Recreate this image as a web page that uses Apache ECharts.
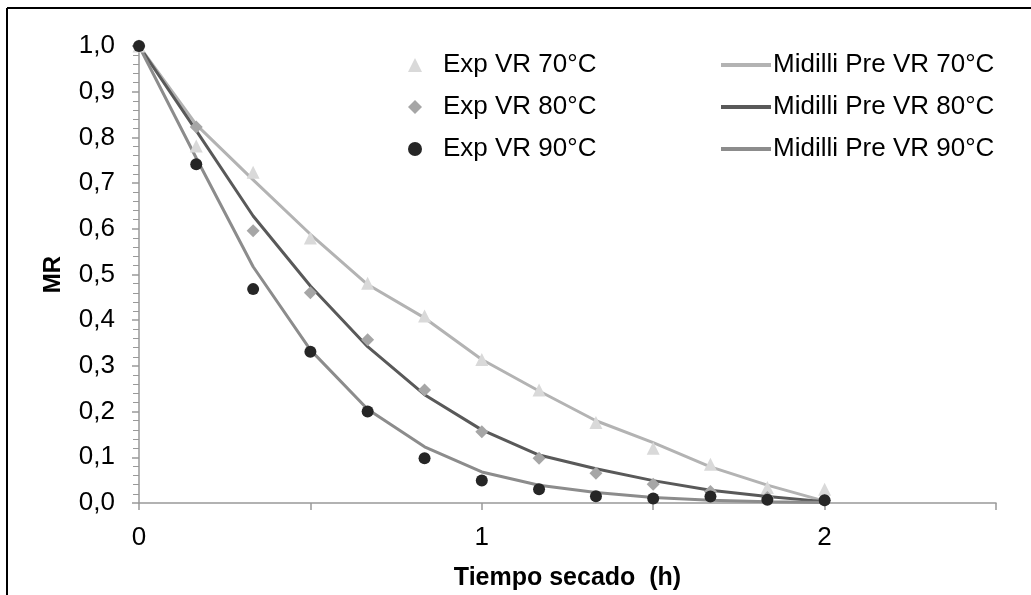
<!DOCTYPE html>
<html>
<head>
<meta charset="utf-8">
<script src="https://cdn.jsdelivr.net/npm/echarts@6/dist/echarts.min.js"></script>
<style>
  html, body { margin: 0; padding: 0; background: #fff; }
  #chart { width: 1031px; height: 595px; }
</style>
</head>
<body>
<div id="chart"></div>
<script>
// Drying time (h), sampled every 10 minutes
const timeH = [0, 0.167, 0.333, 0.5, 0.667, 0.833, 1, 1.167, 1.333, 1.5, 1.667, 1.833, 2];

// Experimental moisture ratio
const exp70 = [1.0, 0.781, 0.724, 0.580, 0.481, 0.409, 0.314, 0.247, 0.176, 0.120, 0.085, 0.034, 0.030];
const exp80 = [1.0, 0.823, 0.596, 0.460, 0.357, 0.247, 0.156, 0.098, 0.065, 0.041, 0.025, 0.012, 0.005];
const exp90 = [1.0, 0.741, 0.468, 0.331, 0.200, 0.098, 0.049, 0.030, 0.015, 0.010, 0.014, 0.007, 0.006];

// Midilli model predictions
const mid70 = [1.0, 0.828, 0.707, 0.588, 0.478, 0.405, 0.314, 0.245, 0.180, 0.132, 0.079, 0.039, 0.004];
const mid80 = [1.0, 0.815, 0.628, 0.475, 0.342, 0.237, 0.160, 0.105, 0.075, 0.049, 0.028, 0.014, 0.003];
const mid90 = [1.0, 0.755, 0.517, 0.335, 0.205, 0.123, 0.068, 0.039, 0.023, 0.012, 0.006, 0.003, 0.001];

// Axis labelling
const xLabelValues = [0, 1, 2];
const yDecimalSep = ',';

const pairs = (ys) => timeH.map((t, i) => [t, ys[i]]);
const FONT = '"Liberation Sans", Arial, sans-serif';

const chart = echarts.init(document.getElementById('chart'), null, { renderer: 'canvas' });

const lineSeries = (name, data, color) => ({
  name, type: 'line', data: pairs(data), symbol: 'none', showSymbol: false, smooth: false,
  lineStyle: { color, width: 3 }, itemStyle: { color }, z: 2
});
const scatterSeries = (name, data, symbol, size, color) => ({
  name, type: 'scatter', data: pairs(data), symbol, symbolSize: size,
  itemStyle: { color, opacity: 1 }, z: 3
});

chart.setOption({
  animation: false,
  backgroundColor: '#fff',
  graphic: [
    { type: 'line', shape: { x1: 7, y1: 8, x2: 1040, y2: 8 }, style: { stroke: '#000', lineWidth: 2 } },
    { type: 'line', shape: { x1: 7, y1: 8, x2: 7, y2: 600 }, style: { stroke: '#000', lineWidth: 2 } }
  ],
  grid: { left: 139, top: 46, right: 35, bottom: 92, containLabel: false, outerBoundsMode: 'none' },
  legend: [
    {
      data: ['Exp VR 70°C', 'Exp VR 80°C', 'Exp VR 90°C'],
      orient: 'vertical', left: 403, top: 45, itemWidth: 14, itemHeight: 14, itemGap: 12,
      textStyle: { fontFamily: FONT, fontSize: 26, lineHeight: 30, color: '#000', padding: [0, 0, 0, 16] }
    },
    {
      data: [
        { name: 'Midilli Pre VR 70°C', icon: 'rect' },
        { name: 'Midilli Pre VR 80°C', icon: 'rect' },
        { name: 'Midilli Pre VR 90°C', icon: 'rect' }
      ],
      orient: 'vertical', left: 716, top: 45, itemWidth: 50, itemHeight: 4, itemGap: 12,
      textStyle: { fontFamily: FONT, fontSize: 26, lineHeight: 30, color: '#000', padding: [0, 0, 0, -3] }
    }
  ],
  xAxis: {
    type: 'value', min: 0, max: 2.5, interval: 0.5,
    name: 'Tiempo secado  (h)', nameLocation: 'middle', nameGap: 63,
    nameTextStyle: { fontFamily: FONT, fontSize: 25, fontWeight: 'bold', color: '#000' },
    axisLine: { show: true, lineStyle: { color: '#999', width: 1.5 } },
    axisTick: { show: true, inside: false, length: 7, lineStyle: { color: '#999', width: 1.5 } },
    axisLabel: {
      margin: 22, fontFamily: FONT, fontSize: 26, color: '#000',
      formatter: (v) => (xLabelValues.includes(v) ? String(v) : '')
    },
    splitLine: { show: false }
  },
  yAxis: {
    type: 'value', min: 0, max: 1, interval: 0.1,
    name: 'MR', nameLocation: 'middle', nameGap: 74, nameRotate: 90,
    nameTextStyle: { fontFamily: FONT, fontSize: 24, fontWeight: 'bold', color: '#000' },
    axisLine: { show: true, lineStyle: { color: '#999', width: 1.5 } },
    axisTick: { show: true, inside: false, length: 7, lineStyle: { color: '#999', width: 1.5 } },
    minorTick: { show: true, splitNumber: 5, length: 6, lineStyle: { color: '#999', width: 1 } },
    axisLabel: {
      margin: 24, fontFamily: FONT, fontSize: 26, color: '#000',
      formatter: (v) => v.toFixed(1).replace('.', yDecimalSep)
    },
    splitLine: { show: false }
  },
  series: [
    lineSeries('Midilli Pre VR 70°C', mid70, '#b3b3b3'),
    lineSeries('Midilli Pre VR 80°C', mid80, '#595959'),
    lineSeries('Midilli Pre VR 90°C', mid90, '#8c8c8c'),
    scatterSeries('Exp VR 70°C', exp70, 'triangle', 13, '#d9d9d9'),
    scatterSeries('Exp VR 80°C', exp80, 'diamond', 13, '#a6a6a6'),
    scatterSeries('Exp VR 90°C', exp90, 'circle', 12, '#262626')
  ]
});
</script>
</body>
</html>
